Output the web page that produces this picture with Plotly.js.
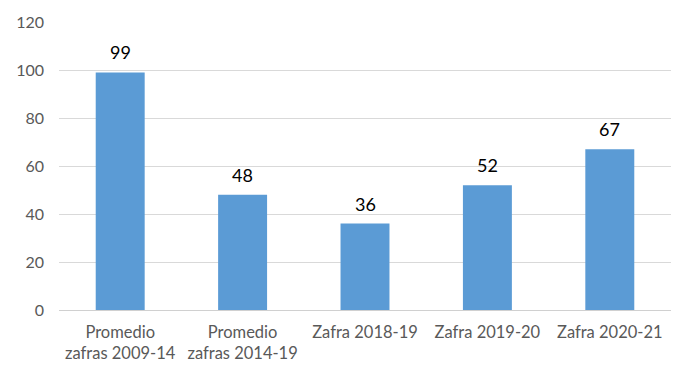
<!DOCTYPE html>
<html><head><meta charset="utf-8">
<script src="https://cdn.plot.ly/plotly-3.0.1.min.js"></script>
<style>html,body{margin:0;padding:0;background:#fff}#chart{width:694px;height:381px}</style>
</head><body><div id="chart"></div>
<script>
const categories = ["Promedio<br>zafras 2009-14", "Promedio<br>zafras 2014-19", "Zafra 2018-19", "Zafra 2019-20", "Zafra 2020-21"];
const values = [99, 48, 36, 52, 67];
const yTicks = [0, 20, 40, 60, 80, 100, 120];

const font = "Lato, 'Open Sans', sans-serif";
const trace = {
  type: "bar", x: categories, y: values,
  marker: {color: "#5B9BD5"}, width: 0.4, hoverinfo: "none"
};
const annotations = values.map((v, i) => ({
  x: categories[i], y: v, text: String(v), showarrow: false,
  yanchor: "bottom", yshift: 7, font: {family: font, size: 18, color: "#000"}
}));
const layout = {
  width: 694, height: 381,
  margin: {l: 59, r: 23, t: 22, b: 71},
  paper_bgcolor: "#fff", plot_bgcolor: "#fff",
  showlegend: false,
  font: {family: font, size: 16, color: "#595959"},
  xaxis: {type: "category", showgrid: false, showline: false, zeroline: false, ticks: "", ticklabelstandoff: 10, tickfont: {size: 16.5, color: "#595959"}},
  yaxis: {range: [0, 120], tickvals: yTicks, showgrid: true, gridcolor: "#d9d9d9", gridwidth: 1, zeroline: true, zerolinecolor: "#d0d0d0", zerolinewidth: 1, ticks: "", ticklabelstandoff: 14, tickfont: {size: 16, color: "#595959"}},
  annotations: annotations
};
Plotly.newPlot("chart", [trace], layout, {displayModeBar: false, staticPlot: true});
</script></body></html>
